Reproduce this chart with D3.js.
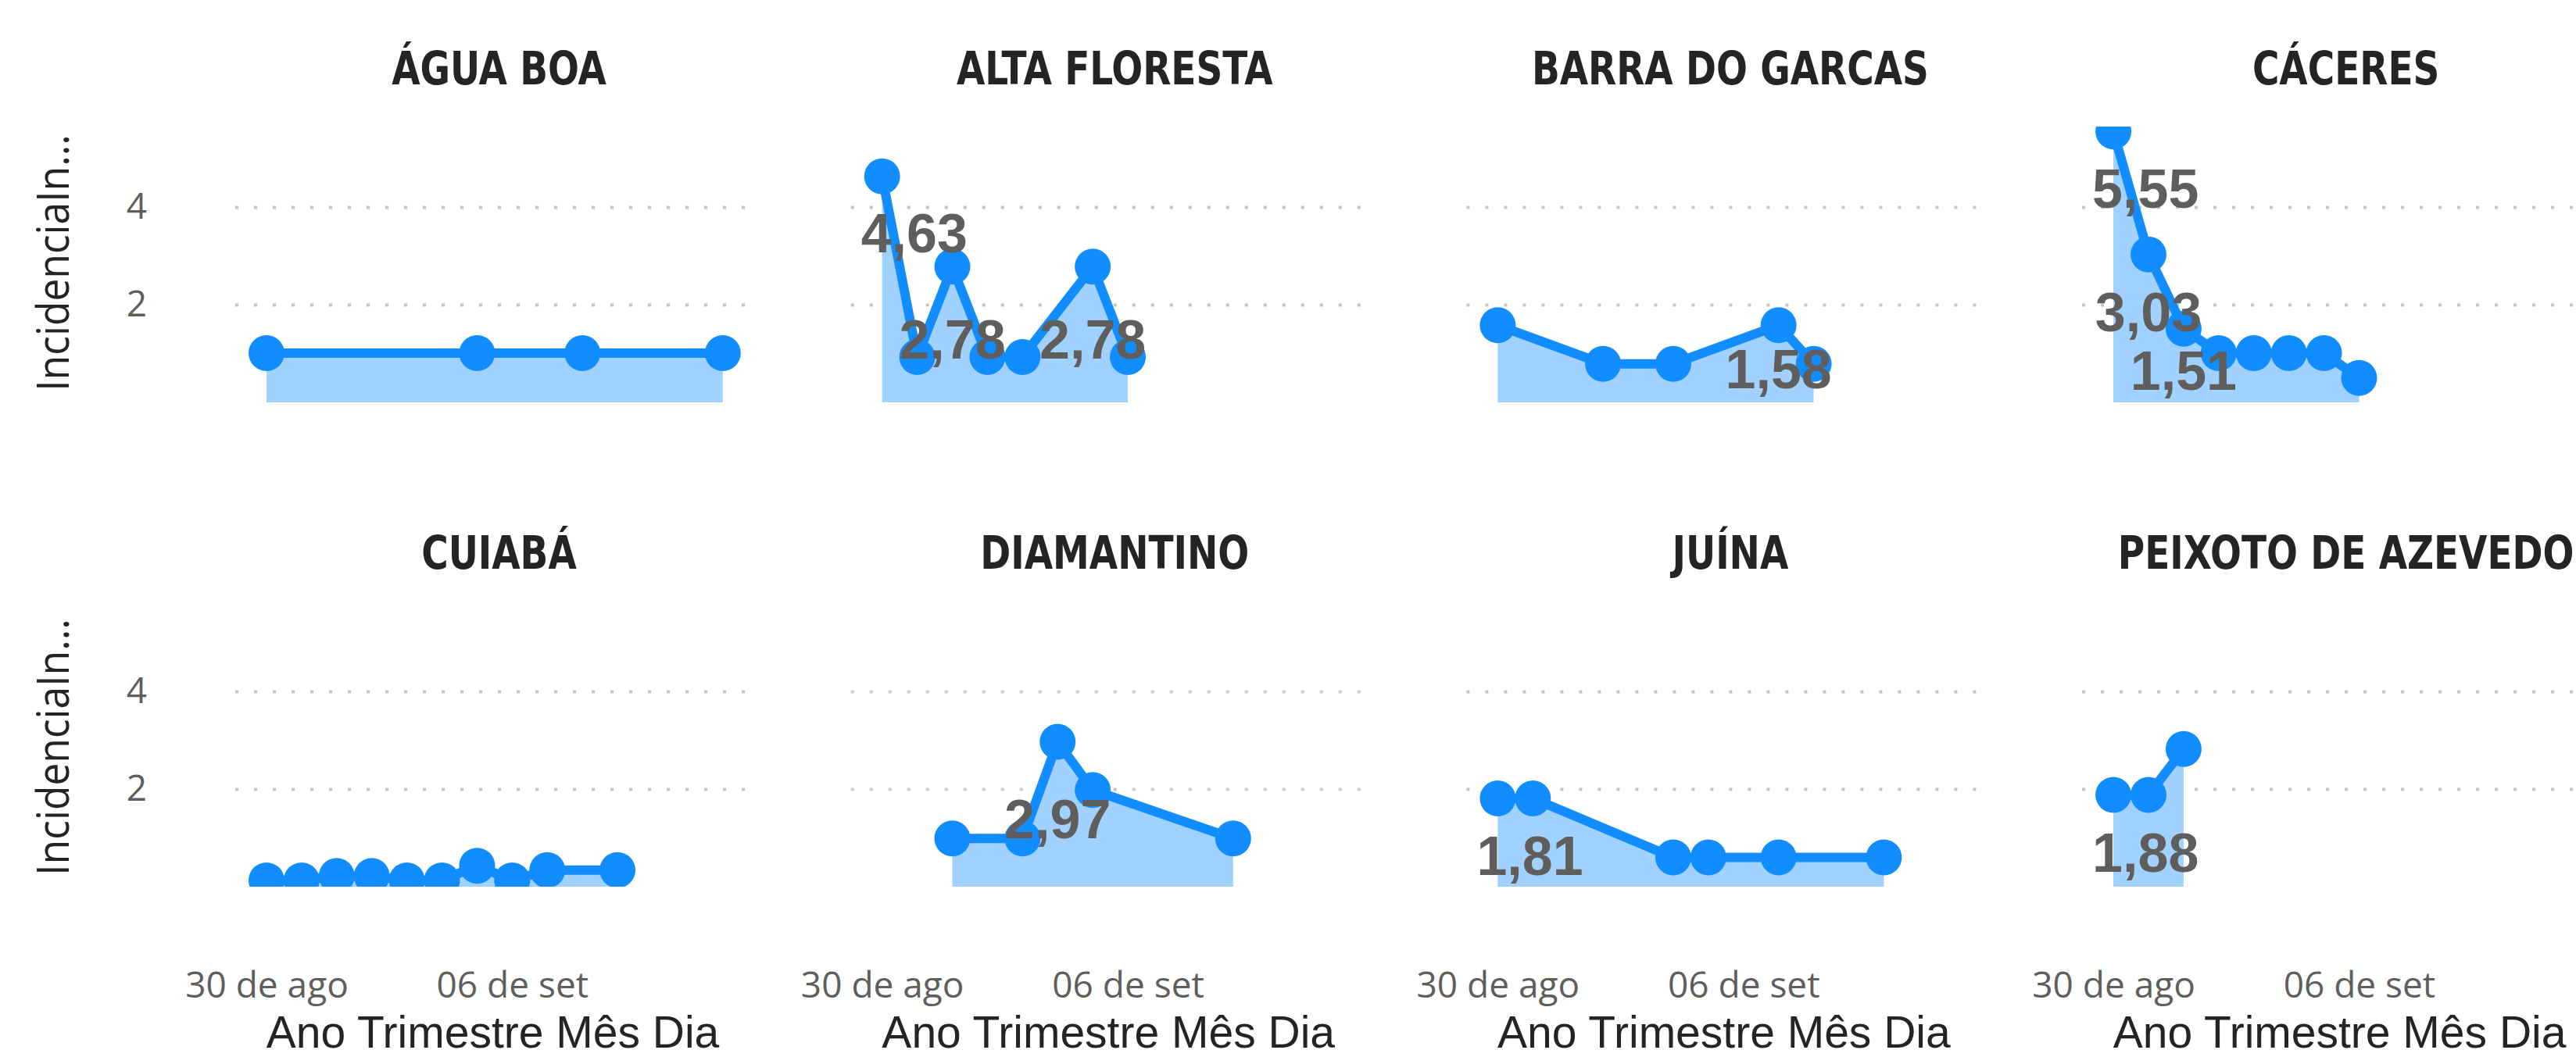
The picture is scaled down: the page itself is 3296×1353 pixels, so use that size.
<!DOCTYPE html>
<html>
<head>
<meta charset="utf-8">
<script src="https://cdn.jsdelivr.net/npm/d3@7"></script>
<style>
  body { margin: 0; background: #fff; }
</style>
</head>
<body>
<div class="small-multiples"></div>
<script>
// panel order: left to right, top to bottom
const cities = ["ÁGUA BOA", "ALTA FLORESTA", "BARRA DO GARCAS", "CÁCERES",
                "CUIABÁ", "DIAMANTINO", "JUÍNA", "PEIXOTO DE AZEVEDO"];

const aguaBoaDates = ["2020-08-30", "2020-09-05", "2020-09-08", "2020-09-12"];
const aguaBoaValues = [1.01, 1.01, 1.01, 1.01];

const altaFlorestaDates = ["2020-08-30", "2020-08-31", "2020-09-01", "2020-09-02", "2020-09-03", "2020-09-05", "2020-09-06"];
const altaFlorestaValues = [4.63, 0.93, 2.78, 0.93, 0.93, 2.78, 0.93];

const barraDates = ["2020-08-30", "2020-09-02", "2020-09-04", "2020-09-07", "2020-09-08"];
const barraValues = [1.58, 0.79, 0.79, 1.58, 0.79];

const caceresDates = ["2020-08-30", "2020-08-31", "2020-09-01", "2020-09-02", "2020-09-03", "2020-09-04", "2020-09-05", "2020-09-06"];
const caceresValues = [5.55, 3.03, 1.51, 1.01, 1.01, 1.01, 1.01, 0.50];

const cuiabaDates = ["2020-08-30", "2020-08-31", "2020-09-01", "2020-09-02", "2020-09-03", "2020-09-04", "2020-09-05", "2020-09-06", "2020-09-07", "2020-09-09"];
const cuiabaValues = [0.13, 0.13, 0.22, 0.22, 0.13, 0.13, 0.43, 0.13, 0.34, 0.34];

const diamantinoDates = ["2020-09-01", "2020-09-03", "2020-09-04", "2020-09-05", "2020-09-09"];
const diamantinoValues = [0.99, 0.99, 2.97, 1.98, 0.99];

const juinaDates = ["2020-08-30", "2020-08-31", "2020-09-04", "2020-09-05", "2020-09-07", "2020-09-10"];
const juinaValues = [1.81, 1.81, 0.60, 0.60, 0.60, 0.60];

const peixotoDates = ["2020-08-30", "2020-08-31", "2020-09-01"];
const peixotoValues = [1.88, 1.88, 2.82];

// which points carry a data label (index in the series)
const aguaBoaLabels = [];
const altaFlorestaLabels = [0, 2, 5];
const barraLabels = [3];
const caceresLabels = [0, 1, 2];
const cuiabaLabels = [];
const diamantinoLabels = [2];
const juinaLabels = [0];
const peixotoLabels = [0];

const xTickDates = ["2020-08-30", "2020-09-06"];
const xDomainDates = ["2020-08-29T02:38", "2020-09-12T15:36"];
const yTickValues = [2, 4];
const yMax = 5.65;
const yTitle = "IncidenciaIn...";
const xTitle = "Ano Trimestre Mês Dia";

// layout
const W = 3296, H = 1353;
const firstLeft = 301, colStep = 787.7, plotWidth = 653;
const rowTop = [162, 782], rowZero = [515, 1135];
const titleBaseline = [108, 728];
const xTickBaseline = 1277, xTitleBaseline = 1341;
// label baseline below its point (px), same order as the label lists
const labelDy = [[], [97, 118, 118], [81], [98, 98, 78], [], [124], [98], [98]];

const blue = "#118DFF", areaFill = "#A0D1FF";
const titleFont = "'DejaVu Sans Condensed', 'DejaVu Sans', sans-serif";
const labelFont = "'Liberation Sans', Arial, sans-serif";
const uiFont = "'Open Sans', 'Noto Sans', sans-serif";

const parseDay = d3.timeParse("%Y-%m-%d");
const parseTime = d3.timeParse("%Y-%m-%dT%H:%M");
const ptBR = d3.timeFormatLocale({
  dateTime: "%A, %e de %B de %Y. %X", date: "%d/%m/%Y", time: "%H:%M:%S",
  periods: ["AM", "PM"],
  days: ["Domingo", "Segunda", "Terça", "Quarta", "Quinta", "Sexta", "Sábado"],
  shortDays: ["Dom", "Seg", "Ter", "Qua", "Qui", "Sex", "Sáb"],
  months: ["Janeiro", "Fevereiro", "Março", "Abril", "Maio", "Junho", "Julho", "Agosto", "Setembro", "Outubro", "Novembro", "Dezembro"],
  shortMonths: ["jan", "fev", "mar", "abr", "mai", "jun", "jul", "ago", "set", "out", "nov", "dez"]
});
const tickFormat = ptBR.format("%d de %b");
const numFormat = d3.formatLocale({decimal: ",", thousands: ".", grouping: [3], currency: ["R$", ""]}).format(".2f");

const allDates = [aguaBoaDates, altaFlorestaDates, barraDates, caceresDates, cuiabaDates, diamantinoDates, juinaDates, peixotoDates];
const allValues = [aguaBoaValues, altaFlorestaValues, barraValues, caceresValues, cuiabaValues, diamantinoValues, juinaValues, peixotoValues];
const allLabels = [aguaBoaLabels, altaFlorestaLabels, barraLabels, caceresLabels, cuiabaLabels, diamantinoLabels, juinaLabels, peixotoLabels];

const series = cities.map((name, k) => ({
  name,
  points: allDates[k].map((d, i) => ({date: parseDay(d), value: allValues[k][i]})),
  labels: allLabels[k],
  dy: labelDy[k]
}));

const svg = d3.select(".small-multiples")
  .append("svg")
  .attr("width", W)
  .attr("height", H)
  .style("display", "block");

svg.append("rect").attr("width", W).attr("height", H).attr("fill", "#fff");

const defs = svg.append("defs");

series.forEach((s, k) => {
  const col = k % 4, row = Math.floor(k / 4);
  const left = firstLeft + col * colStep;

  const xScale = d3.scaleTime()
    .domain(xDomainDates.map(parseTime))
    .range([left, left + plotWidth]);
  const yScale = d3.scaleLinear()
    .domain([0, yMax])
    .range([rowZero[row], rowTop[row]]);

  const g = svg.append("g");

  defs.append("clipPath").attr("id", "clip" + k)
    .append("rect")
    .attr("x", left)
    .attr("y", rowTop[row])
    .attr("width", plotWidth)
    .attr("height", rowZero[row] - rowTop[row]);

  // dotted gridlines (+ tick labels on the first column)
  const yAxis = d3.axisLeft(yScale)
    .tickValues(yTickValues)
    .tickSize(-plotWidth)
    .tickPadding(113)
    .tickFormat(col === 0 ? d3.format("d") : () => "");
  g.append("g")
    .attr("transform", `translate(${left},0)`)
    .call(yAxis)
    .call(a => a.select(".domain").remove())
    .call(a => a.selectAll("line")
      .attr("stroke", "#c8c6c4")
      .attr("stroke-width", 4)
      .attr("stroke-dasharray", "4 20"))
    .call(a => a.selectAll("text")
      .attr("fill", "#605e5c")
      .attr("font-family", uiFont)
      .attr("font-size", 46));

  // title (squeezed a bit to get closer to the narrow original face)
  g.append("text")
    .attr("transform", `translate(${left + plotWidth / 2 + 11},${titleBaseline[row]}) scale(0.9,1)`)
    .attr("text-anchor", "middle")
    .attr("font-family", titleFont)
    .attr("font-weight", "bold")
    .attr("font-size", 58)
    .attr("fill", "#252423")
    .text(s.name);

  const plot = g.append("g").attr("clip-path", `url(#clip${k})`);

  const area = d3.area()
    .x(d => xScale(d.date))
    .y0(yScale(0))
    .y1(d => yScale(d.value));
  const line = d3.line()
    .x(d => xScale(d.date))
    .y(d => yScale(d.value));

  plot.append("path")
    .datum(s.points)
    .attr("fill", areaFill)
    .attr("d", area);

  plot.append("path")
    .datum(s.points)
    .attr("fill", "none")
    .attr("stroke", blue)
    .attr("stroke-width", 12)
    .attr("stroke-linejoin", "round")
    .attr("d", line);

  plot.selectAll("circle")
    .data(s.points)
    .enter()
    .append("circle")
    .attr("cx", d => xScale(d.date))
    .attr("cy", d => yScale(d.value))
    .attr("r", 23)
    .attr("fill", blue);

  // data labels
  g.selectAll(".data-label")
    .data(s.labels.map((i, j) => ({p: s.points[i], dy: s.dy[j]})))
    .enter()
    .append("text")
    .attr("class", "data-label")
    .attr("text-anchor", "middle")
    .attr("font-family", labelFont)
    .attr("font-weight", "bold")
    .attr("font-size", 70)
    .attr("fill", "#605e5c")
    .attr("y", d => yScale(d.p.value) + d.dy)
    .text(d => numFormat(d.p.value))
    .each(function(d) {
      // keep the label inside the plot area
      const w = this.getComputedTextLength();
      const cx = Math.max(xScale(d.p.date), left + 13 + w / 2);
      d3.select(this).attr("x", cx);
    });

  if (col === 0) {
    const mid = (rowTop[row] + rowZero[row]) / 2 - 2;
    g.append("text")
      .attr("transform", `translate(88,${mid}) rotate(-90) scale(0.92,1)`)
      .attr("text-anchor", "middle")
      .attr("font-family", uiFont)
      .attr("font-size", 56)
      .attr("fill", "#252423")
      .text(yTitle);
  }

  if (row === 1) {
    const xAxis = d3.axisBottom(xScale)
      .tickValues(xTickDates.map(parseDay))
      .tickFormat(tickFormat)
      .tickSize(0)
      .tickPadding(0);
    g.append("g")
      .attr("transform", `translate(0,${xTickBaseline})`)
      .call(xAxis)
      .call(a => a.select(".domain").remove())
      .call(a => a.selectAll("text")
        .attr("dy", 0)
        .attr("fill", "#605e5c")
        .attr("font-family", uiFont)
        .attr("font-size", 46));

    g.append("text")
      .attr("x", left + plotWidth / 2 + 3)
      .attr("y", xTitleBaseline)
      .attr("text-anchor", "middle")
      .attr("font-family", labelFont)
      .attr("font-size", 57)
      .attr("fill", "#252423")
      .text(xTitle);
  }
});
</script>
</body>
</html>
